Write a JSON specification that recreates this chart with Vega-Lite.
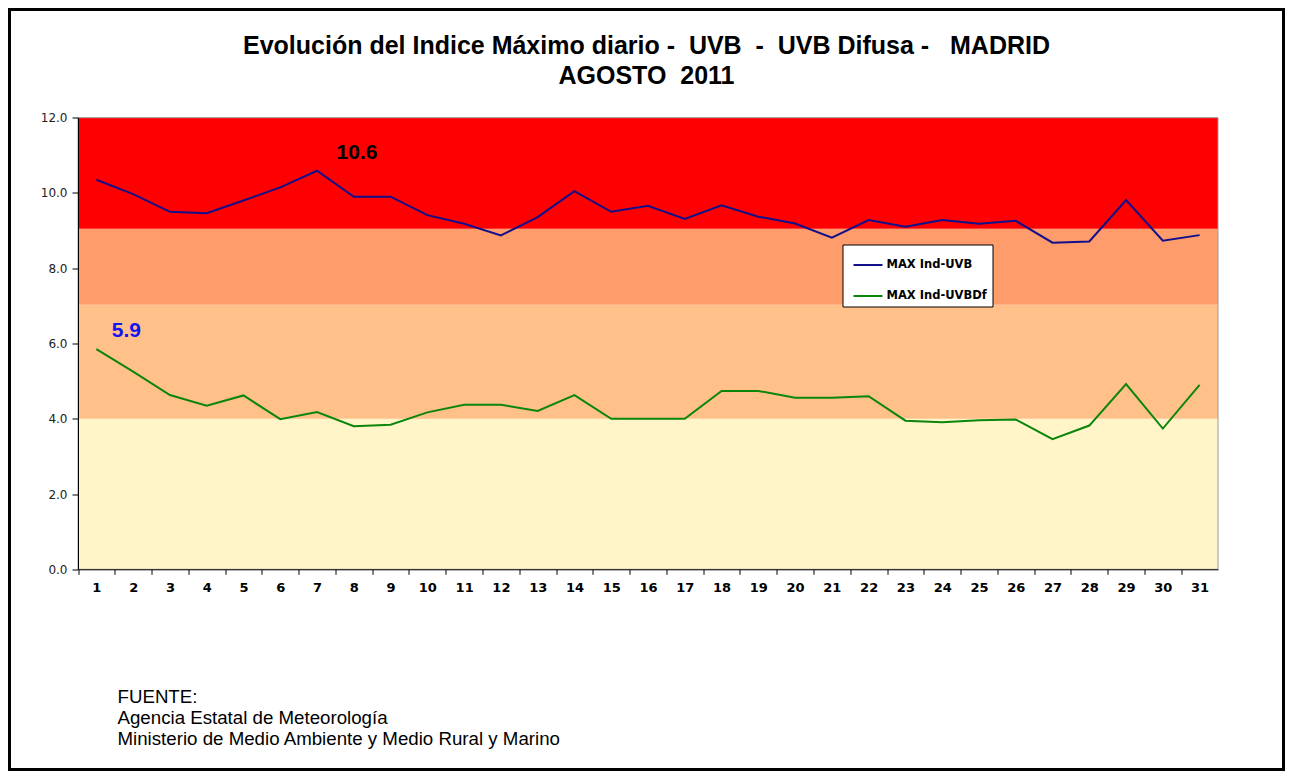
{
  "$schema": "https://vega.github.io/schema/vega-lite/v6.json",
  "autosize": "none",
  "width": 1274,
  "height": 760,
  "padding": {"left": 9.5, "top": 9.5, "right": 7.5, "bottom": 6.5},
  "background": "white",
  "title": {
    "text": ["Evolución del Indice Máximo diario -\u00a0 UVB\u00a0 -\u00a0 UVB Difusa -\u00a0\u00a0 MADRID", "AGOSTO\u00a0 2011"],
    "font": "Liberation Sans",
    "fontSize": 25,
    "fontWeight": "bold",
    "color": "black",
    "anchor": "middle",
    "baseline": "alphabetic",
    "lineHeight": 30,
    "offset": -99
  },
  "datasets": {
    "uv": [
      {"day": 1, "series": "MAX Ind-UVB", "value": 10.35},
      {"day": 2, "series": "MAX Ind-UVB", "value": 9.97},
      {"day": 3, "series": "MAX Ind-UVB", "value": 9.5},
      {"day": 4, "series": "MAX Ind-UVB", "value": 9.46},
      {"day": 5, "series": "MAX Ind-UVB", "value": 9.8},
      {"day": 6, "series": "MAX Ind-UVB", "value": 10.15},
      {"day": 7, "series": "MAX Ind-UVB", "value": 10.59},
      {"day": 8, "series": "MAX Ind-UVB", "value": 9.9},
      {"day": 9, "series": "MAX Ind-UVB", "value": 9.9},
      {"day": 10, "series": "MAX Ind-UVB", "value": 9.41},
      {"day": 11, "series": "MAX Ind-UVB", "value": 9.18},
      {"day": 12, "series": "MAX Ind-UVB", "value": 8.87},
      {"day": 13, "series": "MAX Ind-UVB", "value": 9.36},
      {"day": 14, "series": "MAX Ind-UVB", "value": 10.05},
      {"day": 15, "series": "MAX Ind-UVB", "value": 9.5},
      {"day": 16, "series": "MAX Ind-UVB", "value": 9.66},
      {"day": 17, "series": "MAX Ind-UVB", "value": 9.31},
      {"day": 18, "series": "MAX Ind-UVB", "value": 9.67},
      {"day": 19, "series": "MAX Ind-UVB", "value": 9.37},
      {"day": 20, "series": "MAX Ind-UVB", "value": 9.19},
      {"day": 21, "series": "MAX Ind-UVB", "value": 8.81},
      {"day": 22, "series": "MAX Ind-UVB", "value": 9.28},
      {"day": 23, "series": "MAX Ind-UVB", "value": 9.1},
      {"day": 24, "series": "MAX Ind-UVB", "value": 9.28},
      {"day": 25, "series": "MAX Ind-UVB", "value": 9.18},
      {"day": 26, "series": "MAX Ind-UVB", "value": 9.26},
      {"day": 27, "series": "MAX Ind-UVB", "value": 8.68},
      {"day": 28, "series": "MAX Ind-UVB", "value": 8.71},
      {"day": 29, "series": "MAX Ind-UVB", "value": 9.81},
      {"day": 30, "series": "MAX Ind-UVB", "value": 8.73},
      {"day": 31, "series": "MAX Ind-UVB", "value": 8.88},
      {"day": 1, "series": "MAX Ind-UVBDf", "value": 5.85},
      {"day": 2, "series": "MAX Ind-UVBDf", "value": 5.25},
      {"day": 3, "series": "MAX Ind-UVBDf", "value": 4.63},
      {"day": 4, "series": "MAX Ind-UVBDf", "value": 4.35},
      {"day": 5, "series": "MAX Ind-UVBDf", "value": 4.62},
      {"day": 6, "series": "MAX Ind-UVBDf", "value": 3.99},
      {"day": 7, "series": "MAX Ind-UVBDf", "value": 4.18},
      {"day": 8, "series": "MAX Ind-UVBDf", "value": 3.8},
      {"day": 9, "series": "MAX Ind-UVBDf", "value": 3.84},
      {"day": 10, "series": "MAX Ind-UVBDf", "value": 4.17},
      {"day": 11, "series": "MAX Ind-UVBDf", "value": 4.37},
      {"day": 12, "series": "MAX Ind-UVBDf", "value": 4.37},
      {"day": 13, "series": "MAX Ind-UVBDf", "value": 4.21},
      {"day": 14, "series": "MAX Ind-UVBDf", "value": 4.63},
      {"day": 15, "series": "MAX Ind-UVBDf", "value": 4.0},
      {"day": 16, "series": "MAX Ind-UVBDf", "value": 4.0},
      {"day": 17, "series": "MAX Ind-UVBDf", "value": 4.0},
      {"day": 18, "series": "MAX Ind-UVBDf", "value": 4.74},
      {"day": 19, "series": "MAX Ind-UVBDf", "value": 4.74},
      {"day": 20, "series": "MAX Ind-UVBDf", "value": 4.56},
      {"day": 21, "series": "MAX Ind-UVBDf", "value": 4.56},
      {"day": 22, "series": "MAX Ind-UVBDf", "value": 4.6},
      {"day": 23, "series": "MAX Ind-UVBDf", "value": 3.95},
      {"day": 24, "series": "MAX Ind-UVBDf", "value": 3.91},
      {"day": 25, "series": "MAX Ind-UVBDf", "value": 3.96},
      {"day": 26, "series": "MAX Ind-UVBDf", "value": 3.98},
      {"day": 27, "series": "MAX Ind-UVBDf", "value": 3.46},
      {"day": 28, "series": "MAX Ind-UVBDf", "value": 3.82},
      {"day": 29, "series": "MAX Ind-UVBDf", "value": 4.92},
      {"day": 30, "series": "MAX Ind-UVBDf", "value": 3.74},
      {"day": 31, "series": "MAX Ind-UVBDf", "value": 4.9}
    ],
    "bands": [
      {"zone": "z1", "lo": 0, "hi": 4},
      {"zone": "z2", "lo": 4, "hi": 7.03},
      {"zone": "z3", "lo": 7.03, "hi": 9.05},
      {"zone": "z4", "lo": 9.05, "hi": 12}
    ],
    "notes": [
      {"day": 7, "value": 10.6, "label": "10.6"},
      {"day": 1, "value": 5.9, "label": "5.9"}
    ]
  },
  "layer": [
    {
      "data": {"name": "bands"},
      "mark": {"type": "rect", "strokeWidth": 0},
      "encoding": {
        "x": {"datum": 0.5, "type": "quantitative"},
        "x2": {"datum": 31.5},
        "y": {"field": "lo", "type": "quantitative"},
        "y2": {"field": "hi"},
        "fill": {
          "field": "zone",
          "type": "nominal",
          "scale": {"domain": ["z1", "z2", "z3", "z4"], "range": ["#FFF5C8", "#FFC08A", "#FF9C6C", "#FF0000"]},
          "legend": null
        }
      }
    },
    {
      "data": {"values": [{}]},
      "mark": {"type": "rect", "fillOpacity": 0, "stroke": "#9a9a9a", "strokeWidth": 1},
      "encoding": {
        "x": {"datum": 0.5, "type": "quantitative"},
        "x2": {"datum": 31.5},
        "y": {"datum": 0, "type": "quantitative"},
        "y2": {"datum": 12}
      }
    },
    {
      "data": {"name": "uv"},
      "mark": {"type": "line", "strokeWidth": 2},
      "encoding": {
        "x": {
          "field": "day",
          "type": "quantitative",
          "scale": {"domain": [0.5, 31.5], "range": [68.5, 1208.5], "nice": false, "zero": false},
          "axis": {
            "values": [1, 2, 3, 4, 5, 6, 7, 8, 9, 10, 11, 12, 13, 14, 15, 16, 17, 18, 19, 20, 21, 22, 23, 24, 25, 26, 27, 28, 29, 30, 31, 32],
            "labelExpr": "datum.value > 31 ? '' : datum.label",
            "offset": -200.2,
            "tickOffset": -18.387,
            "labelOffset": 18.387,
            "labelFlush": false,
            "labelOverlap": false,
            "grid": false,
            "domainColor": "black",
            "tickColor": "black",
            "tickSize": 5,
            "labelPadding": 7,
            "labelFont": "DejaVu Sans",
            "labelFontWeight": "bold",
            "labelFontSize": 13,
            "labelColor": "black",
            "zindex": 2,
            "title": ["FUENTE:", "Agencia Estatal de Meteorología", "Ministerio de Medio Ambiente y Medio Rural y Marino"],
            "titleFont": "Liberation Sans",
            "titleFontSize": 18.7,
            "titleFontWeight": "normal",
            "titleColor": "black",
            "titleAlign": "left",
            "titleAnchor": "start",
            "titleBaseline": "top",
            "titleLineHeight": 21,
            "titleX": 107.5,
            "titleY": 118.5
          }
        },
        "y": {
          "field": "value",
          "type": "quantitative",
          "scale": {"domain": [0, 12], "range": [559.8, 108.2], "nice": false, "zero": false},
          "axis": {
            "values": [0, 2, 4, 6, 8, 10, 12],
            "format": ".1f",
            "offset": -68.5,
            "grid": false,
            "domainColor": "black",
            "tickColor": "black",
            "tickSize": 6,
            "labelPadding": 5,
            "labelFont": "DejaVu Sans",
            "labelFontSize": 12,
            "labelColor": "#222222",
            "zindex": 2,
            "title": null
          }
        },
        "stroke": {
          "field": "series",
          "type": "nominal",
          "scale": {"domain": ["MAX Ind-UVB", "MAX Ind-UVBDf"], "range": ["#10108C", "#0A860A"]},
          "legend": {
            "title": null,
            "orient": "none",
            "legendX": 833,
            "legendY": 235,
            "fillColor": "white",
            "strokeColor": "black",
            "padding": 5,
            "symbolType": "stroke",
            "symbolSize": 841,
            "symbolStrokeWidth": 2,
            "symbolOffset": 5,
            "labelOffset": 3,
            "rowPadding": 10,
            "labelFont": "DejaVu Sans",
            "labelFontWeight": "bold",
            "labelFontSize": 11.5,
            "labelColor": "black"
          }
        }
      }
    },
    {
      "data": {"name": "notes"},
      "transform": [{"filter": "datum.day == 7"}],
      "mark": {"type": "text", "font": "Liberation Sans", "fontSize": 21, "fontWeight": "bold", "color": "black", "dx": 40, "dy": -17.5, "align": "center", "baseline": "middle"},
      "encoding": {
        "x": {"field": "day", "type": "quantitative"},
        "y": {"field": "value", "type": "quantitative"},
        "text": {"field": "label"}
      }
    },
    {
      "data": {"name": "notes"},
      "transform": [{"filter": "datum.day == 1"}],
      "mark": {"type": "text", "font": "Liberation Sans", "fontSize": 21, "fontWeight": "bold", "color": "#1414F0", "dx": 30, "dy": -16.5, "align": "center", "baseline": "middle"},
      "encoding": {
        "x": {"field": "day", "type": "quantitative"},
        "y": {"field": "value", "type": "quantitative"},
        "text": {"field": "label"}
      }
    }
  ],
  "config": {
    "view": {"stroke": "black", "strokeWidth": 3, "fill": "white"}
  }
}
